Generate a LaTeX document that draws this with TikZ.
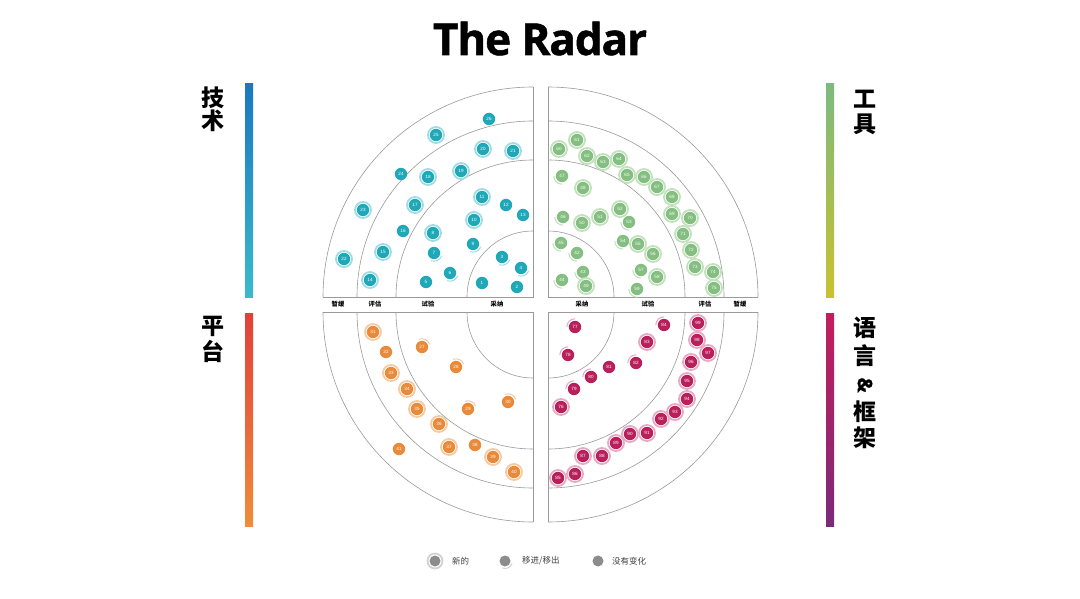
\documentclass[tikz,border=0pt]{standalone}
\usepackage{fontspec}
\setmainfont{Open Sans}
\newfontfamily\cjk{Noto Sans CJK SC}
\newfontfamily\titlefont{Open Sans}[BoldFeatures={FakeBold=1.2,LetterSpace=-2.5}]
\newfontfamily\numfont{Liberation Sans}
\definecolor{ringline}{HTML}{9A9A9A}
\definecolor{techc}{HTML}{1FA8B8}\definecolor{techr}{HTML}{A2DCE3}
\definecolor{toolc}{HTML}{84BE80}\definecolor{toolr}{HTML}{C2E1BD}
\definecolor{platc}{HTML}{E98A3A}\definecolor{platr}{HTML}{F6CBA2}
\definecolor{langc}{HTML}{B9205B}\definecolor{langr}{HTML}{E8AAC3}
\definecolor{legc}{HTML}{8C8C8C}\definecolor{legr}{HTML}{D2D2D2}
\tikzset{
  ring/.style={draw=ringline, line width=0.6pt},
  blip/.style={circle, inner sep=0pt, minimum size=12.4pt, text=white,
    font=\numfont\fontsize{4.6}{5}\selectfont},
  ringlabel/.style={font=\cjk\bfseries\fontsize{6.3}{7}\selectfont, text=black, inner sep=0pt},
  sidelabel/.style={font=\cjk\bfseries\fontsize{23}{25}\selectfont, text=black, inner sep=0pt},
  legtext/.style={font=\cjk\fontsize{8.5}{10}\selectfont, text=black!75, anchor=west, inner sep=0pt}
}
\newcommand\quadblips[5]{%
  \foreach \n/\x/\y/\ty in {#5}{%
    \node[blip, fill=#1] (b\n) at (\x,-\y) {\n};
    \ifnum\ty=1 \draw[#2, line width=1.8pt] (b\n.center) circle[radius=8pt];\fi
    \ifnum\ty=2 \draw[#2, line width=1pt] (b\n.center) ++(#3:8.2pt) arc[start angle=#3, end angle=#4, radius=8.2pt];\fi
  }}
\begin{document}
\begin{tikzpicture}[x=1pt,y=1pt]
\useasboundingbox[fill=white] (0,0) rectangle (1080,-599);
% title
\node[font=\titlefont\bfseries\fontsize{44}{48}\selectfont, anchor=base, inner sep=0pt] (title) at (540,-55) {The Radar};
% side bars
\shade[top color={rgb,255:red,27;green,120;blue,192}, bottom color={rgb,255:red,58;green,186;blue,204}] (245,-84) rectangle (253,-297);
\shade[top color={rgb,255:red,226;green,64;blue,58}, bottom color={rgb,255:red,240;green,140;blue,58}] (245,-313) rectangle (253,-526);
\shade[top color={rgb,255:red,125;green,186;blue,126}, bottom color={rgb,255:red,201;green,193;blue,48}] (826,-84) rectangle (834,-297);
\shade[top color={rgb,255:red,196;green,30;blue,92}, bottom color={rgb,255:red,123;green,42;blue,121}] (826,-313) rectangle (834,-526);
% side labels
\node[sidelabel] (l1) at (213,-98) {技};
\node[sidelabel] (l2) at (213,-121) {术};
\node[sidelabel] (l3) at (213,-326) {平};
\node[sidelabel] (l4) at (213,-351) {台};
\node[sidelabel] (r1) at (865,-99) {工};
\node[sidelabel] (r2) at (865,-124) {具};
\node[sidelabel] (r3) at (865,-328) {语};
\node[sidelabel] (r4) at (865,-356) {言};
\node[sidelabel, rotate=-90, font=\titlefont\bfseries\fontsize{20}{22}\selectfont] (r5) at (865,-385) {\&};
\node[sidelabel] (r6) at (865,-412) {框};
\node[sidelabel] (r7) at (865,-438) {架};
% rings
\foreach \r in {66,137,176,210}{
  \draw[ring] (533-\r,-297) arc[start angle=180, end angle=90, radius=\r];
  \draw[ring] (548+\r,-297) arc[start angle=0, end angle=90, radius=\r];
  \draw[ring] (533-\r,-312) arc[start angle=180, end angle=270, radius=\r];
  \draw[ring] (548+\r,-312) arc[start angle=0, end angle=-90, radius=\r];
}
\draw[ring] (323,-297) -- (533,-297) -- (533,-87);
\draw[ring] (758,-297) -- (548,-297) -- (548,-87);
\draw[ring] (323,-312) -- (533,-312) -- (533,-522);
\draw[ring] (758,-312) -- (548,-312) -- (548,-522);
% ring labels
\node[ringlabel] (t1) at (338,-304.5) {暂缓};
\node[ringlabel] (t2) at (375,-304.5) {评估};
\node[ringlabel] (t3) at (428,-304.5) {试验};
\node[ringlabel] (t4) at (497,-304.5) {采纳};
\node[ringlabel] (t5) at (582,-304.5) {采纳};
\node[ringlabel] (t6) at (648,-304.5) {试验};
\node[ringlabel] (t7) at (705,-304.5) {评估};
\node[ringlabel] (t8) at (740,-304.5) {暂缓};
% blips
\quadblips{techc}{techr}{-20}{-110}{26/489/119/0, 25/436/135/1, 20/483/149/1, 21/513/151/1, 24/401/174/0, 18/428/177/1, 19/461/171/1, 23/363/210/1, 17/415/205/1, 11/482/197/1, 12/506/205/0, 13/523/215/0, 16/403/231/0, 8/433/233/1, 10/474/220/1, 9/473/244/2, 15/383/252/1, 7/434/253/2, 22/344/259/1, 3/502/257/2, 4/521/268/2, 14/370/280/1, 6/450/273/2, 5/426/282/0, 1/482/283/0, 2/517/287/0}
\quadblips{toolc}{toolr}{180}{270}{61/577/140/1, 60/559/149/1, 62/587/156/1, 63/603/162/1, 64/619/159/1, 65/627/175/1, 66/644/177/1, 67/657/187/1, 68/672/197/1, 47/562/176/2, 48/583/188/1, 69/672/214/1, 70/690/218/1, 52/620/209/1, 46/563/217/2, 50/582/223/1, 51/600/217/1, 53/629/222/2, 71/683/234/1, 54/623/241/2, 55/638/244/1, 56/653/254/1, 72/691/250/1, 45/561/243/2, 42/577/253/2, 73/695/267/1, 74/713/272/1, 43/583/272/2, 57/641/270/2, 58/657/277/1, 44/562/280/2, 49/586/286/1, 59/637/289/2, 75/714/288/1}
\quadblips{platc}{platr}{20}{110}{31/373/332/1, 32/386/352/0, 27/422/347/2, 33/391/373/1, 28/456/367/2, 34/407/389/1, 30/508/402/2, 35/417/409/1, 29/468/409/2, 36/439/424/1, 41/399/449/0, 37/449/447/1, 38/475/445/0, 39/493/457/1, 40/514/472/1}
\quadblips{langc}{langr}{90}{180}{77/575/327/2, 84/664/325/2, 99/698/323/1, 83/647/342/1, 98/697/340/1, 97/708/353/1, 78/568/355/2, 81/609/367/0, 82/636/363/2, 96/691/362/1, 80/591/377/2, 95/687/381/1, 79/574/389/2, 94/687/399/1, 76/561/407/1, 93/675/412/1, 92/661/419/1, 91/647/433/1, 90/630/434/1, 89/616/443/1, 88/602/456/1, 87/583/456/1, 86/575/474/1, 85/558/478/1}
% legend
\node[blip, fill=legc, minimum size=11pt] (g1) at (435,-561) {};
\draw[legr, line width=1.8pt] (g1.center) circle[radius=7.5pt];
\node[legtext] (g1t) at (452,-561) {新的};
\node[blip, fill=legc, minimum size=11pt] (g2) at (505,-561) {};
\draw[legr, line width=1pt] (g2.center) ++(-20:7.5pt) arc[start angle=-20, end angle=-110, radius=7.5pt];
\node[legtext] (g2t) at (522,-561) {移进/移出};
\node[blip, fill=legc, minimum size=11pt] (g3) at (598,-561) {};
\node[legtext] (g3t) at (612,-561) {没有变化};
\end{tikzpicture}
\end{document}
